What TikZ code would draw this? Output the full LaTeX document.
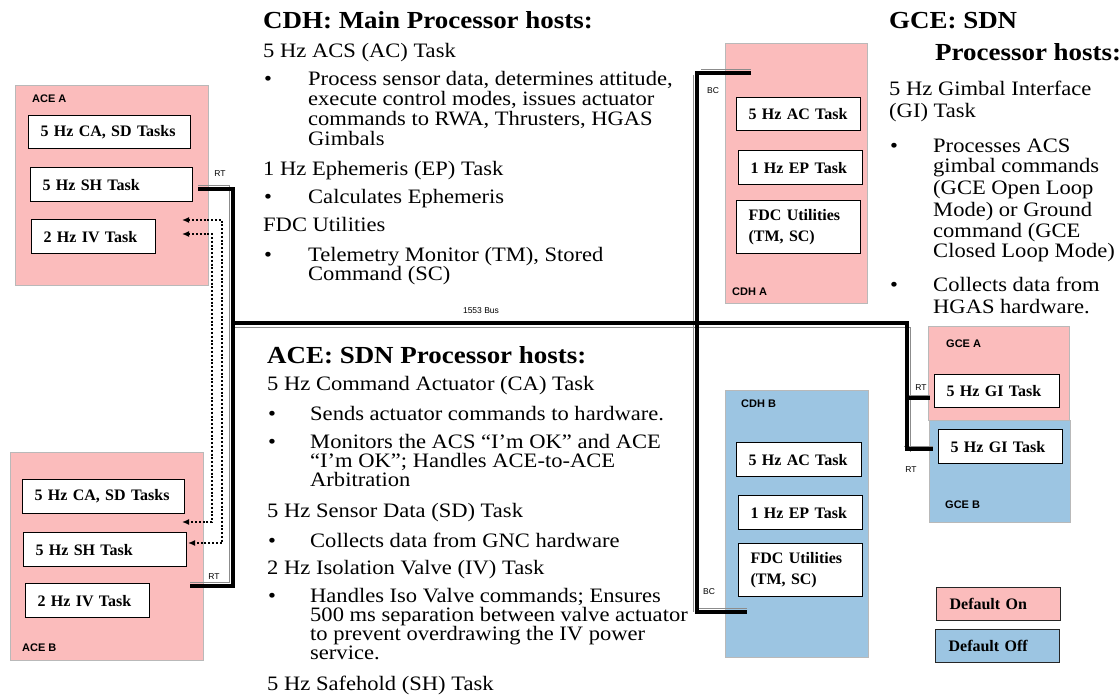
\documentclass[tikz,border=0pt]{standalone}
\usepackage{fontspec}
\setmainfont{Liberation Serif}
\newfontfamily\bodyfont[FakeStretch=1.1]{Liberation Serif}
\newfontfamily\labelfont{Liberation Sans}
\usetikzlibrary{arrows.meta}
\definecolor{onfill}{RGB}{251,188,188}
\definecolor{offfill}{RGB}{156,197,226}
\definecolor{unitedge}{RGB}{185,185,185}
\begin{document}
\begin{tikzpicture}[x=1pt,y=-1pt,
  unit/.style={draw=unitedge, line width=0.8pt, anchor=north west, inner sep=0pt},
  taskbox/.style={draw=black, line width=1.2pt, fill=white, anchor=north west,
    inner xsep=12pt, inner ysep=0pt, minimum height=34pt, align=left,
    font=\fontsize{16}{21}\selectfont\bfseries},
  legendbox/.style={draw=black!85, line width=1.2pt, anchor=north west,
    inner xsep=13pt, inner ysep=0pt, minimum height=33pt, align=left,
    font=\fontsize{16}{21}\selectfont\bfseries},
  unitlabel/.style={anchor=west, inner sep=0pt, font=\labelfont\bfseries\fontsize{11}{12}\selectfont},
  tag/.style={inner sep=0pt, font=\labelfont\fontsize{8.5}{9}\selectfont},
  txt/.style={anchor=base west, inner sep=0pt, font=\bodyfont\fontsize{20.5}{20}\selectfont},
  head/.style={anchor=base west, inner sep=0pt, font=\bodyfont\fontsize{24.5}{25}\selectfont\bfseries},
  bus/.style={line width=3.2pt, black},
  busedge/.style={line width=0.9pt, black!45},
  sig/.style={line width=2pt, dash pattern=on 2pt off 1.8pt,
    {Latex[length=7pt,width=6pt]}-{Latex[length=7pt,width=6pt]}}
]
\useasboundingbox (0,0) rectangle (1119,694);

% ---------- processor units ----------
\node[unit, fill=onfill, minimum width=193pt, minimum height=200pt] (aceA) at (15,85) {};
\node[unit, fill=onfill, minimum width=193pt, minimum height=208pt] (aceB) at (10,452) {};
\node[unit, fill=onfill, minimum width=142pt, minimum height=260pt] (cdhA) at (725,43) {};
\node[unit, fill=offfill, minimum width=143pt, minimum height=267pt] (cdhB) at (725,390) {};
\node[unit, fill=onfill, minimum width=141pt, minimum height=94pt] (gceA) at (928,326) {};
\node[unit, fill=offfill, minimum width=141pt, minimum height=102pt] (gceB) at (929,420) {};

\node[unitlabel] (aceAl) at (32,99) {ACE A};
\node[unitlabel] (aceBl) at (22,648) {ACE B};
\node[unitlabel] (cdhAl) at (732,292) {CDH A};
\node[unitlabel] (cdhBl) at (741,404) {CDH B};
\node[unitlabel] (gceAl) at (946,344) {GCE A};
\node[unitlabel] (gceBl) at (945,505) {GCE B};

% ---------- tasks ----------
\node[taskbox, text width=138pt, minimum height=33pt] (aA1) at (28,115) {5 Hz CA, SD Tasks};
\node[taskbox, text width=138pt] (aA2) at (30,167) {5 Hz SH Task};
\node[taskbox, text width=100pt] (aA3) at (31,219) {2 Hz IV Task};

\node[taskbox, text width=138pt] (aB1) at (22,479) {5 Hz CA, SD Tasks};
\node[taskbox, text width=139pt] (aB2) at (23,532) {5 Hz SH Task};
\node[taskbox, text width=100pt] (aB3) at (25,583) {2 Hz IV Task};

\node[taskbox, text width=100pt, minimum height=33pt] (cA1) at (736,97) {5 Hz AC Task};
\node[taskbox, text width=100pt] (cA2) at (738,150) {1 Hz EP Task};
\node[taskbox, text width=100pt, minimum height=53pt] (cA3) at (736,200) {FDC Utilities\\(TM, SC)};

\node[taskbox, text width=101pt] (cB1) at (736,442) {5 Hz AC Task};
\node[taskbox, text width=100pt] (cB2) at (738,495) {1 Hz EP Task};
\node[taskbox, text width=100pt, minimum height=53pt] (cB3) at (738,543) {FDC Utilities\\(TM, SC)};

\node[taskbox, text width=101pt, minimum height=33pt] (gA1) at (934,374) {5 Hz GI Task};
\node[taskbox, text width=100pt] (gB1) at (938,429) {5 Hz GI Task};

% ---------- legend ----------
\node[legendbox, fill=onfill, text width=98pt] (lgOn) at (936,587) {Default On};
\node[legendbox, fill=offfill, text width=98pt] (lgOff) at (935,629) {Default Off};

% ---------- 1553 bus ----------
\coordinate (rtA) at (198,189);
\coordinate (rtAc) at (233,189);
\coordinate (rtBc) at (233,586);
\coordinate (rtB) at (190,586);
\coordinate (busW) at (233,323);
\coordinate (busE) at (907,323);
\coordinate (gAs) at (905,398);
\coordinate (gA) at (930,398);
\coordinate (gBc) at (907,449);
\coordinate (gB) at (933,449);
\coordinate (bcA) at (751,73);
\coordinate (bcAc) at (697,73);
\coordinate (bcBc) at (697,612);
\coordinate (bcB) at (747,612);

\draw[busedge] ([yshift=4]rtA) -- ([xshift=-4,yshift=4]rtAc) -- ([xshift=-4,yshift=4]rtBc) -- ([yshift=4]rtB);
\draw[busedge] ([yshift=-4]busW) -- ([xshift=3,yshift=-4]busE) -- ([xshift=3,yshift=-3]gBc);
\draw[busedge] ([yshift=3]gAs) -- ([yshift=3]gA);
\draw[busedge] ([xshift=-3,yshift=3]gBc) -- ([yshift=3]gB);
\draw[busedge] ([yshift=4]bcA) -- ([xshift=4,yshift=4]bcAc);
\draw[busedge] ([xshift=-4,yshift=-2]bcAc) -- ([xshift=-4]bcBc);
\draw[busedge] ([yshift=4]bcBc) -- ([yshift=4]bcB);

\draw[bus] (rtA) -- (rtAc) -- (rtBc) -- (rtB);
\draw[bus] (busW) -- (busE) -- (gBc) -- (gB);
\draw[bus] (gAs) -- (gA);
\draw[bus] (bcA) -- (bcAc) -- (bcBc) -- (bcB);

\node[tag] (busl) at (481,311) {1553 Bus};
\node[tag] (rtAl) at (220,174) {RT};
\node[tag] (rtBl) at (214,577) {RT};
\node[tag] (bcAl) at (713,91) {BC};
\node[tag] (bcBl) at (709,592) {BC};
\node[tag] (rtGA) at (921,388) {RT};
\node[tag] (rtGB) at (911,470) {RT};

% ---------- cross-strapping between ACE A and ACE B ----------
\coordinate (xA1) at (182,220);
\coordinate (xA1c) at (222,220);
\coordinate (xB1c) at (222,543);
\coordinate (xB1) at (188,543);
\coordinate (xA2) at (182,234);
\coordinate (xA2c) at (212,234);
\coordinate (xB2c) at (212,522);
\coordinate (xB2) at (182,522);
\draw[sig] (xA1) -- (xA1c) -- (xB1c) -- (xB1);
\draw[sig] (xA2) -- (xA2c) -- (xB2c) -- (xB2);

% ---------- CDH description ----------
\node[head] (cdhH) at (263,28) {CDH: Main Processor hosts:};
\node[txt] (cdh1) at (263,57) {5 Hz ACS (AC) Task};
\node[txt] (cdhb1) at (264,85) {•};
\node[txt] (cdh2) at (308,85) {Process sensor data, determines attitude,};
\node[txt] (cdh3) at (308,105) {execute control modes, issues actuator};
\node[txt] (cdh4) at (308,125) {commands to RWA, Thrusters, HGAS};
\node[txt] (cdh5) at (308,145) {Gimbals};
\node[txt] (cdh6) at (263,175) {1 Hz Ephemeris (EP) Task};
\node[txt] (cdhb2) at (264,203) {•};
\node[txt] (cdh7) at (308,203) {Calculates Ephemeris};
\node[txt] (cdh8) at (263,231) {FDC Utilities};
\node[txt] (cdhb3) at (264,261) {•};
\node[txt] (cdh9) at (308,261) {Telemetry Monitor (TM), Stored};
\node[txt] (cdh10) at (308,280) {Command (SC)};

% ---------- ACE description ----------
\node[head] (aceH) at (267,363) {ACE: SDN Processor hosts:};
\node[txt] (ace1) at (267,390) {5 Hz Command Actuator (CA) Task};
\node[txt] (aceb1) at (268,420) {•};
\node[txt] (ace2) at (310,420) {Sends actuator commands to hardware.};
\node[txt] (aceb2) at (268,448) {•};
\node[txt] (ace3) at (310,448) {Monitors the ACS “I’m OK” and ACE};
\node[txt] (ace4) at (310,467) {“I’m OK”; Handles ACE-to-ACE};
\node[txt] (ace5) at (310,486) {Arbitration};
\node[txt] (ace6) at (267,517) {5 Hz Sensor Data (SD) Task};
\node[txt] (aceb3) at (268,547) {•};
\node[txt] (ace7) at (310,547) {Collects data from GNC hardware};
\node[txt] (ace8) at (267,574) {2 Hz Isolation Valve (IV) Task};
\node[txt] (aceb4) at (268,602) {•};
\node[txt] (ace9) at (310,602) {Handles Iso Valve commands; Ensures};
\node[txt] (ace10) at (310,621) {500 ms separation between valve actuator};
\node[txt] (ace11) at (310,640) {to prevent overdrawing the IV power};
\node[txt] (ace12) at (310,659) {service.};
\node[txt] (ace13) at (267,690) {5 Hz Safehold (SH) Task};

% ---------- GCE description ----------
\node[head] (gceH1) at (889,28) {GCE: SDN};
\node[head] (gceH2) at (935,60) {Processor hosts:};
\node[txt] (gce1) at (889,95) {5 Hz Gimbal Interface};
\node[txt] (gce2) at (889,117) {(GI) Task};
\node[txt] (gceb1) at (890,152) {•};
\node[txt] (gce3) at (933,152) {Processes ACS};
\node[txt] (gce4) at (933,172) {gimbal commands};
\node[txt] (gce5) at (933,194) {(GCE Open Loop};
\node[txt] (gce6) at (933,216) {Mode) or Ground};
\node[txt] (gce7) at (933,237) {command (GCE};
\node[txt] (gce8) at (933,257) {Closed Loop Mode)};
\node[txt] (gceb2) at (890,291) {•};
\node[txt] (gce9) at (933,291) {Collects data from};
\node[txt] (gce10) at (933,313) {HGAS hardware.};
\end{tikzpicture}
\end{document}
